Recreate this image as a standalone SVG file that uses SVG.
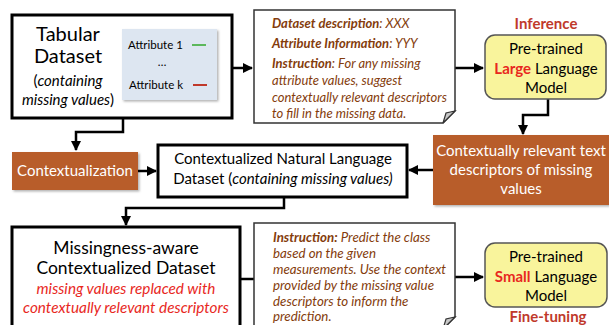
<svg xmlns="http://www.w3.org/2000/svg" width="609" height="325" viewBox="0 0 609 325">
<style>
text{font-family:Lato,"Open Sans","Liberation Sans",sans-serif;fill:#000}
.thick{fill:#fff;stroke:#000;stroke-width:3}
.doc{fill:#fff;stroke:#333;stroke-width:1.5}
.fold{fill:#c8c8c8;stroke:#333;stroke-width:1.2}
.orange{fill:#b85d2b}
.yel{fill:#f9f49c;stroke:#555;stroke-width:1.5}
.w{fill:#fff;font-size:15px}
.t{font-size:15px}
.br{fill:#843c0c;font-size:13px;font-style:italic}
.br2{fill:#843c0c;font-size:13.3px;font-style:italic}
.b{font-weight:bold}
.red{fill:#e8281e}
.dred{fill:#c0392b;font-weight:bold;font-size:15px}
.con{fill:none;stroke:#000;stroke-width:2.5}
</style>
<defs>
<marker id="ah" viewBox="0 0 10 10" refX="9" refY="5" markerWidth="4" markerHeight="4" orient="auto" markerUnits="strokeWidth">
<path d="M0,0 L10,5 L0,10 Z" fill="#000"/>
</marker>
<filter id="sh" x="-10%" y="-10%" width="130%" height="130%">
<feDropShadow dx="1.5" dy="1.5" stdDeviation="1" flood-color="#000" flood-opacity="0.3"/>
</filter>
</defs>

<g id="connectors">
<path class="con" d="M232,68 H252" marker-end="url(#ah)"/>
<path class="con" d="M455,68 H483" marker-end="url(#ah)"/>
<path class="con" d="M548,99 V115 H523 V134" marker-end="url(#ah)"/>
<path class="con" d="M123,118 V132 H76 V150" marker-end="url(#ah)"/>
<path class="con" d="M138,171 H156" marker-end="url(#ah)"/>
<path class="con" d="M433,170 H409" marker-end="url(#ah)"/>
<path class="con" d="M284,197 V208 H126 V225" marker-end="url(#ah)"/>
<path class="con" d="M241,279 H254"/>
<path class="con" d="M455,277 H483" marker-end="url(#ah)"/>
</g>

<g id="tabular">
<rect class="thick" x="12" y="15" width="220" height="103"/>
<text x="68" y="41" text-anchor="middle" style="font-size:20px">Tabular</text>
<text x="68" y="63" text-anchor="middle" style="font-size:20px">Dataset</text>
<text class="t" x="68" y="86" text-anchor="middle">(<tspan font-style="italic">containing</tspan></text>
<text class="t" x="68" y="105" text-anchor="middle"><tspan font-style="italic">missing values</tspan>)</text>
<rect x="122" y="29" width="95" height="71" fill="#dde6f1" filter="url(#sh)"/>
<text x="128" y="49" style="font-size:11.5px">Attribute 1</text>
<line x1="192" y1="45" x2="206" y2="45" stroke="#5cb85c" stroke-width="2"/>
<text x="162" y="66" text-anchor="middle" style="font-size:11.5px">…</text>
<text x="129" y="89" style="font-size:11.5px">Attribute k</text>
<line x1="193" y1="85" x2="207" y2="85" stroke="#c0392b" stroke-width="2"/>
</g>

<g id="prompt1">
<path class="doc" d="M254,10 H455 V111 L443,123 H254 Z"/>
<path class="fold" d="M455,111 L443,123 L446,113 Z"/>
<text class="br" x="272" y="28"><tspan class="b">Dataset description</tspan>: XXX</text>
<text class="br" x="272" y="48"><tspan class="b">Attribute Information</tspan>: YYY</text>
<text class="br" x="272" y="68"><tspan class="b">Instruction</tspan>: For any missing</text>
<text class="br" x="272" y="85">attribute values, suggest</text>
<text class="br" x="272" y="102">contextually relevant descriptors</text>
<text class="br" x="272" y="118">to fill in the missing data.</text>
</g>

<g id="llm">
<text class="dred" x="546" y="29" text-anchor="middle">Inference</text>
<rect class="yel" x="485" y="35" width="121" height="64" rx="10"/>
<text class="t" x="546" y="54" text-anchor="middle">Pre-trained</text>
<text class="t" x="546" y="74" text-anchor="middle"><tspan class="red b">Large</tspan> Language</text>
<text class="t" x="546" y="93" text-anchor="middle">Model</text>
</g>

<g id="descriptors">
<rect class="orange" x="433" y="135" width="176" height="70" filter="url(#sh)"/>
<text class="w" x="521" y="156" text-anchor="middle">Contextually relevant text</text>
<text class="w" x="521" y="175" text-anchor="middle">descriptors of missing</text>
<text class="w" x="521" y="194" text-anchor="middle">values</text>
</g>

<g id="contextualization">
<rect class="orange" x="12" y="152" width="126" height="38" filter="url(#sh)"/>
<text class="w" x="75" y="176" text-anchor="middle">Contextualization</text>
</g>

<g id="nl-dataset">
<rect class="thick" x="158" y="145" width="249" height="52"/>
<text class="t" x="283" y="164" text-anchor="middle">Contextualized Natural Language</text>
<text class="t" x="283" y="184" text-anchor="middle">Dataset (<tspan font-style="italic">containing missing values)</tspan></text>
</g>

<g id="missingness">
<rect class="thick" x="12" y="227" width="228" height="110"/>
<text x="126" y="254" text-anchor="middle" style="font-size:17.5px">Missingness-aware</text>
<text x="126" y="274" text-anchor="middle" style="font-size:17.5px">Contextualized Dataset</text>
<text x="126" y="294" text-anchor="middle" class="red" style="font-size:15.3px;font-style:italic">missing values replaced with</text>
<text x="126" y="313" text-anchor="middle" class="red" style="font-size:15.3px;font-style:italic">contextually relevant descriptors</text>
</g>

<g id="prompt2">
<path class="doc" d="M254,223 H455 V317 L443,329 H254 Z"/>
<path class="fold" d="M455,317 L443,329 L446,319 Z"/>
<text class="br2" x="273" y="242"><tspan class="b">Instruction:</tspan> Predict the class</text>
<text class="br2" x="273" y="258">based on the given</text>
<text class="br2" x="273" y="274">measurements. Use the context</text>
<text class="br2" x="273" y="290">provided by the missing value</text>
<text class="br2" x="273" y="306">descriptors to inform the</text>
<text class="br2" x="273" y="321">prediction.</text>
</g>

<g id="slm">
<rect class="yel" x="485" y="243" width="122" height="64" rx="10"/>
<text class="t" x="546" y="262" text-anchor="middle">Pre-trained</text>
<text class="t" x="546" y="282" text-anchor="middle"><tspan class="red b">Small</tspan> Language</text>
<text class="t" x="546" y="301" text-anchor="middle">Model</text>
<text class="dred" x="548" y="322" text-anchor="middle">Fine-tuning</text>
</g>
</svg>
